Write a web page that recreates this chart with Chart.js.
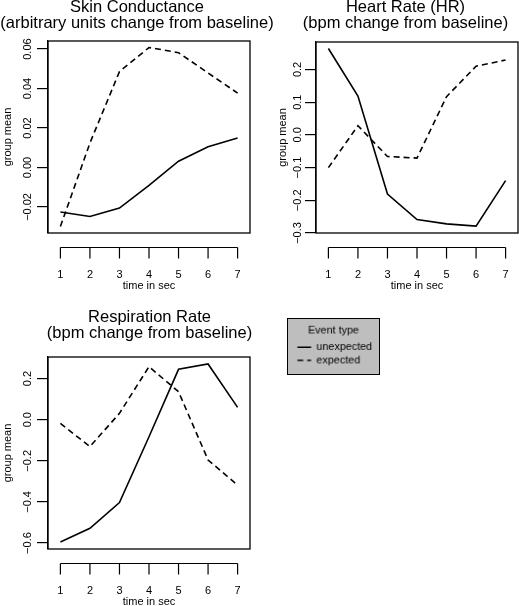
<!DOCTYPE html>
<html lang="en">
<head>
<meta charset="UTF-8">
<title>Group means by event type</title>
<script src="https://cdn.jsdelivr.net/npm/chart.js"></script>
<style>
  html, body { margin: 0; padding: 0; background: #fff; overflow: hidden; }
  body { width: 519px; height: 606px; position: relative; }
  canvas { position: absolute; }
  #legendBox { background: #bebebe; border: 1px solid #000; }
</style>
</head>
<body>
<canvas id="scChart" width="274" height="303" style="left:0;top:0"></canvas>
<canvas id="hrChart" width="291" height="303" style="left:260px;top:0"></canvas>
<canvas id="rrChart" width="299" height="303" style="left:0;top:303px"></canvas>
<canvas id="legendBox" width="93" height="57" style="left:287px;top:318px"></canvas>
<script>
// time axis, shared by the three panels
const timeSec = [1, 2, 3, 4, 5, 6, 7];

// skin conductance (arbitrary units change from baseline)
const scUnexpected = [-0.0226, -0.0248, -0.0206, -0.0091, 0.0032, 0.0105, 0.0149];
const scExpected   = [-0.0299, 0.0124, 0.0486, 0.0608, 0.0582, 0.0479, 0.0377];
const scTicks = [-0.02, 0, 0.02, 0.04, 0.06];

// heart rate (bpm change from baseline)
const hrUnexpected = [0.264, 0.119, -0.181, -0.259, -0.272, -0.279, -0.140];
const hrExpected   = [-0.100, 0.028, -0.066, -0.071, 0.117, 0.210, 0.229];
const hrTicks = [-0.3, -0.2, -0.1, 0, 0.1, 0.2];

// respiration rate (bpm change from baseline)
const rrUnexpected = [-0.595, -0.528, -0.403, -0.083, 0.245, 0.271, 0.060];
const rrExpected   = [-0.018, -0.131, 0.031, 0.258, 0.136, -0.196, -0.318];
const rrTicks = [-0.6, -0.4, -0.2, 0, 0.2];

const eventTypes = ['unexpected', 'expected'];

Chart.defaults.font.family = "'Liberation Sans', Arial, Helvetica, sans-serif";
Chart.defaults.font.size = 11;
Chart.defaults.color = '#000';

function fmt(v, d) {
  return (v < -1e-9 ? '\u2212' : '') + Math.abs(v).toFixed(d);
}

// box round the plot region + x axis drawn below it, like base R
const frame = {
  id: 'frame',
  afterDraw(chart) {
    const { ctx, chartArea: a } = chart;
    const x = chart.scales.x;
    ctx.save();
    ctx.strokeStyle = '#000';
    ctx.lineWidth = 1.3;
    ctx.strokeRect(a.left, a.top, a.right - a.left, a.bottom - a.top);
    const y0 = a.bottom + 14.5;
    const px = x.ticks.map(t => x.getPixelForValue(t.value));
    ctx.lineWidth = 1.2;
    ctx.beginPath();
    ctx.moveTo(px[0], y0);
    ctx.lineTo(px[px.length - 1], y0);
    px.forEach(p => { ctx.moveTo(p, y0); ctx.lineTo(p, y0 + 11); });
    ctx.stroke();
    ctx.restore();
  }
};

function series(vals) {
  return timeSec.map((t, i) => ({ x: t, y: vals[i] }));
}

function panel(id, o) {
  return new Chart(document.getElementById(id), {
    type: 'line',
    data: {
      datasets: [
        { label: eventTypes[0], data: series(o.unexpected), borderColor: '#000', borderWidth: 1.6, pointRadius: 0, tension: 0 },
        { label: eventTypes[1], data: series(o.expected), borderColor: '#000', borderWidth: 1.6, pointRadius: 0, tension: 0, borderDash: [6, 4] }
      ]
    },
    options: {
      responsive: false,
      devicePixelRatio: 1,
      animation: false,
      events: [],
      layout: { padding: 0 },
      plugins: {
        legend: { display: false },
        tooltip: { enabled: false },
        title: {
          display: true,
          text: o.title,
          color: '#000',
          font: { size: 16.5, weight: 'normal', lineHeight: '16.5px' },
          padding: { top: o.titleTop, bottom: o.titleBottom }
        }
      },
      scales: {
        x: {
          type: 'linear', min: 0.58, max: 7.42,
          afterBuildTicks: s => { s.ticks = timeSec.map(v => ({ value: v })); },
          afterFit: s => { s.height = o.xHeight; },
          grid: { display: false },
          border: { display: false },
          ticks: { padding: 27, autoSkip: false, maxRotation: 0 },
          title: { display: true, text: 'time in sec', font: { size: 11 }, padding: { top: 0, bottom: o.xTitleBottom } }
        },
        y: {
          min: o.yMin, max: o.yMax,
          afterBuildTicks: s => { s.ticks = o.yTicks.map(v => ({ value: v })); },
          afterFit: s => { s.width = o.yWidth; },
          grid: { drawOnChartArea: false, tickLength: 11, color: '#000', lineWidth: 1.2 },
          border: { display: true, color: '#000', width: 1.2 },
          ticks: {
            minRotation: 90, maxRotation: 90, crossAlign: 'center',
            padding: o.yLabelPad, autoSkip: false,
            callback: v => fmt(v, o.digits)
          },
          title: { display: true, text: 'group mean', font: { size: 11 }, padding: { top: o.yTitlePad, bottom: 0 } }
        },
        // empty space on the right, keeps the title centred on the whole canvas
        gap: {
          type: 'linear', axis: 'y', position: 'right',
          grid: { display: false }, border: { display: false }, ticks: { display: false },
          afterFit: s => { s.width = o.padRight; }
        }
      }
    },
    plugins: [frame]
  });
}

panel('scChart', {
  title: ['Skin Conductance', '(arbitrary units change from baseline)'],
  unexpected: scUnexpected, expected: scExpected,
  yMin: -0.0332, yMax: 0.0641, yTicks: scTicks, digits: 2,
  titleTop: -1, titleBottom: 9, xHeight: 70, xTitleBottom: 10.7,
  yWidth: 48, yLabelPad: -5.2, yTitlePad: 1, padRight: 24
});

panel('hrChart', {
  title: ['Heart Rate (HR)', '(bpm change from baseline)'],
  unexpected: hrUnexpected, expected: hrExpected,
  yMin: -0.3, yMax: 0.284, yTicks: hrTicks, digits: 1,
  titleTop: -1, titleBottom: 10, xHeight: 70, xTitleBottom: 10.7,
  yWidth: 56, yLabelPad: -3.4, yTitlePad: 16.4, padRight: 33
});

panel('rrChart', {
  title: ['Respiration Rate', '(bpm change from baseline)'],
  unexpected: rrUnexpected, expected: rrExpected,
  yMin: -0.629, yMax: 0.305, yTicks: rrTicks, digits: 1,
  titleTop: 6, titleBottom: 15, xHeight: 57, xTitleBottom: -2.3,
  yWidth: 48, yLabelPad: -2.2, yTitlePad: 1, padRight: 49
});

// legend panel
new Chart(document.getElementById('legendBox'), {
  type: 'line',
  data: {
    datasets: [
      { label: eventTypes[0], data: [], borderColor: '#000', borderWidth: 1.6 },
      { label: eventTypes[1], data: [], borderColor: '#000', borderWidth: 1.6, borderDash: [6, 4] }
    ]
  },
  options: {
    responsive: false,
    devicePixelRatio: 1,
    animation: false,
    events: [],
    layout: { padding: { left: 7.2, right: 7.2, top: 0, bottom: 0 } },
    scales: { x: { display: false }, y: { display: false } },
    plugins: {
      tooltip: { enabled: false },
      title: { display: true, text: 'Event type', color: '#000', font: { size: 11, weight: 'normal' }, padding: { top: 5.4, bottom: 2.8 } },
      legend: {
        display: true, position: 'top', align: 'start',
        labels: {
          usePointStyle: true, pointStyleWidth: 14, padding: 2.4,
          font: { size: 11 }, color: '#000',
          generateLabels: chart => chart.data.datasets.map((ds, i) => ({
            text: ds.label, strokeStyle: ds.borderColor, fillStyle: ds.borderColor,
            lineWidth: ds.borderWidth, lineDash: ds.borderDash || [],
            pointStyle: 'line', fontColor: '#000', hidden: false, datasetIndex: i
          }))
        }
      }
    }
  }
});
</script>
</body>
</html>
